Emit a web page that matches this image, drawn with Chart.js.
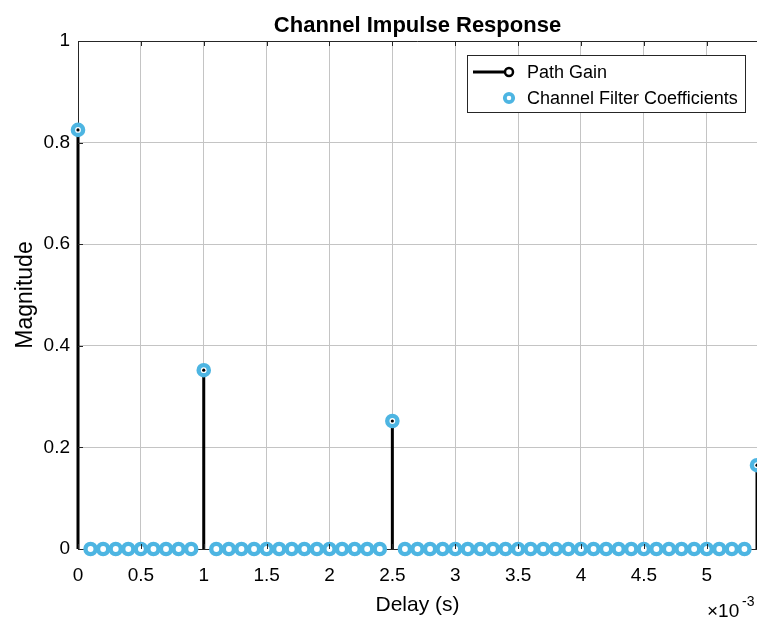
<!DOCTYPE html>
<html lang="en">
<head>
<meta charset="UTF-8">
<title>Channel Impulse Response</title>
<script src="https://cdn.jsdelivr.net/npm/chart.js"></script>
<style>
  html, body { margin: 0; padding: 0; background: #fff; }
  canvas { display: block; }
</style>
</head>
<body>
<canvas id="cir" width="757" height="623"></canvas>
<script>
// multipath delays (s) and their gains
const pathDelays = [0, 0.001, 0.0025, 0.0054];
const pathGains = [0.825, 0.352, 0.252, 0.165];

// channel filter taps, one every 0.1 ms starting at 0
const tapSpacing = 0.0001;
const filterCoeffs = [
  0.825, 0, 0, 0, 0, 0, 0, 0, 0, 0,
  0.352, 0, 0, 0, 0, 0, 0, 0, 0, 0,
  0, 0, 0, 0, 0, 0.252, 0, 0, 0, 0,
  0, 0, 0, 0, 0, 0, 0, 0, 0, 0,
  0, 0, 0, 0, 0, 0, 0, 0, 0, 0,
  0, 0, 0, 0, 0.165
];

// axis ranges / ticks
const xRange = [0, 0.0054];
const xStep = 0.0005;
const yRange = [0, 1];
const yStep = 0.2;

const TITLE = 'Channel Impulse Response';
const FONT = "'Liberation Sans', Arial, sans-serif";
const BLUE = '#4db5e2';

const stemPoints = [];
pathDelays.forEach((d, i) => {
  stemPoints.push({ x: d, y: 0 }, { x: d, y: pathGains[i] }, { x: d, y: null });
});
const pathTops = pathDelays.map((d, i) => ({ x: d, y: pathGains[i] }));
const filterPoints = filterCoeffs.map((c, i) => ({ x: i * tapSpacing, y: c }));

// box around the axes, MATLAB style inward ticks, title over the axes
const axesBox = {
  id: 'axesBox',
  afterDatasetsDraw(chart) {
    const { ctx, chartArea: a, scales } = chart;
    ctx.save();
    ctx.strokeStyle = '#262626';
    ctx.lineWidth = 1;
    const top = Math.round(a.top) + 0.5;
    ctx.beginPath();
    ctx.moveTo(a.left, top);
    ctx.lineTo(a.right, top);
    scales.x.ticks.forEach(t => {
      const px = Math.round(scales.x.getPixelForValue(t.value)) + 0.5;
      ctx.moveTo(px, a.top); ctx.lineTo(px, a.top + 5);
      ctx.moveTo(px, a.bottom); ctx.lineTo(px, a.bottom - 5);
    });
    scales.y.ticks.forEach(t => {
      const py = Math.round(scales.y.getPixelForValue(t.value)) + 0.5;
      ctx.moveTo(a.left, py); ctx.lineTo(a.left + 5, py);
    });
    ctx.stroke();
    ctx.restore();
  },
  afterDraw(chart) {
    const { ctx, chartArea: a } = chart;
    ctx.save();
    ctx.fillStyle = '#000';
    ctx.textBaseline = 'alphabetic';
    // title
    ctx.textAlign = 'center';
    ctx.font = 'bold 22px ' + FONT;
    ctx.fillText(TITLE, (a.left + a.right) / 2, 32);
    // exponent of the x axis
    ctx.textAlign = 'left';
    ctx.font = '19px ' + FONT;
    ctx.fillText('\u00d710', a.right - 50, 617);
    ctx.font = '14px ' + FONT;
    ctx.fillText('-3', a.right - 15, 606);
    ctx.restore();
  }
};

// legend drawn inside the axes, top right
const insideLegend = {
  id: 'insideLegend',
  afterDraw(chart) {
    const { ctx } = chart;
    const ds = chart.data.datasets;
    const box = { x: 467.5, y: 55.5, w: 278, h: 57 };
    ctx.save();
    ctx.fillStyle = '#fff';
    ctx.fillRect(box.x, box.y, box.w, box.h);
    ctx.strokeStyle = '#262626';
    ctx.lineWidth = 1;
    ctx.strokeRect(box.x, box.y, box.w, box.h);

    // stem sample
    ctx.strokeStyle = '#000';
    ctx.lineWidth = 3;
    ctx.beginPath();
    ctx.moveTo(473, 72);
    ctx.lineTo(505, 72);
    ctx.stroke();
    ctx.lineWidth = 2.5;
    ctx.fillStyle = '#fff';
    ctx.beginPath();
    ctx.arc(509, 72, 4, 0, Math.PI * 2);
    ctx.fill();
    ctx.stroke();

    // filter coefficient sample
    ctx.strokeStyle = BLUE;
    ctx.lineWidth = 3.8;
    ctx.beginPath();
    ctx.arc(509, 98, 4.2, 0, Math.PI * 2);
    ctx.fill();
    ctx.stroke();

    ctx.fillStyle = '#000';
    ctx.font = '18px ' + FONT;
    ctx.textBaseline = 'middle';
    ctx.fillText(ds[2].label, 527, 73);
    ctx.fillText(ds[1].label, 527, 99);
    ctx.restore();
  }
};

const fmt = v => String(Math.round(v * 1e4) / 10);

new Chart(document.getElementById('cir'), {
  type: 'scatter',
  data: {
    datasets: [
      {
        label: 'Path Gain markers',
        data: pathTops,
        pointRadius: 1.6,
        pointBorderWidth: 0,
        pointBackgroundColor: '#000',
        clip: false,
        order: 0
      },
      {
        label: 'Channel Filter Coefficients',
        data: filterPoints,
        pointRadius: 5.1,
        pointBorderWidth: 4.4,
        pointBorderColor: BLUE,
        pointBackgroundColor: '#fff',
        clip: false,
        order: 1
      },
      {
        label: 'Path Gain',
        type: 'line',
        data: stemPoints,
        borderColor: '#000',
        borderWidth: 3,
        borderCapStyle: 'butt',
        pointRadius: 0,
        spanGaps: false,
        clip: false,
        order: 2
      }
    ]
  },
  options: {
    responsive: false,
    animation: false,
    events: [],
    devicePixelRatio: 1,
    layout: { autoPadding: false, padding: { top: 41, right: 0, bottom: 0, left: 0 } },
    plugins: {
      legend: { display: false },
      tooltip: { enabled: false },
      title: { display: false }
    },
    scales: {
      x: {
        type: 'linear',
        min: xRange[0],
        max: xRange[1],
        afterFit: s => { s.height = 74; s.paddingLeft = 0; s.paddingRight = 0; },
        border: { color: '#262626', width: 1 },
        grid: { color: '#c4c4c4', lineWidth: 1, drawTicks: false },
        ticks: {
          stepSize: xStep,
          includeBounds: false,
          color: '#000',
          padding: 15,
          maxRotation: 0,
          autoSkip: false,
          font: { family: FONT, size: 19 },
          callback: v => fmt(v)
        },
        title: {
          display: true,
          text: 'Delay (s)',
          color: '#000',
          font: { family: FONT, size: 21 },
          padding: { top: 5, bottom: 5 }
        }
      },
      y: {
        min: yRange[0],
        max: yRange[1],
        afterFit: s => { s.width = 78; s.paddingTop = 0; s.paddingBottom = 0; },
        border: { color: '#262626', width: 1 },
        grid: { color: '#c4c4c4', lineWidth: 1, drawTicks: false },
        ticks: {
          stepSize: yStep,
          color: '#000',
          padding: 8,
          font: { family: FONT, size: 19 },
          callback: v => String(Math.round(v * 10) / 10)
        },
        title: {
          display: true,
          text: 'Magnitude',
          color: '#000',
          font: { family: FONT, size: 23 },
          padding: { top: 12, bottom: 4 }
        }
      }
    }
  },
  plugins: [axesBox, insideLegend]
});
</script>
</body>
</html>
